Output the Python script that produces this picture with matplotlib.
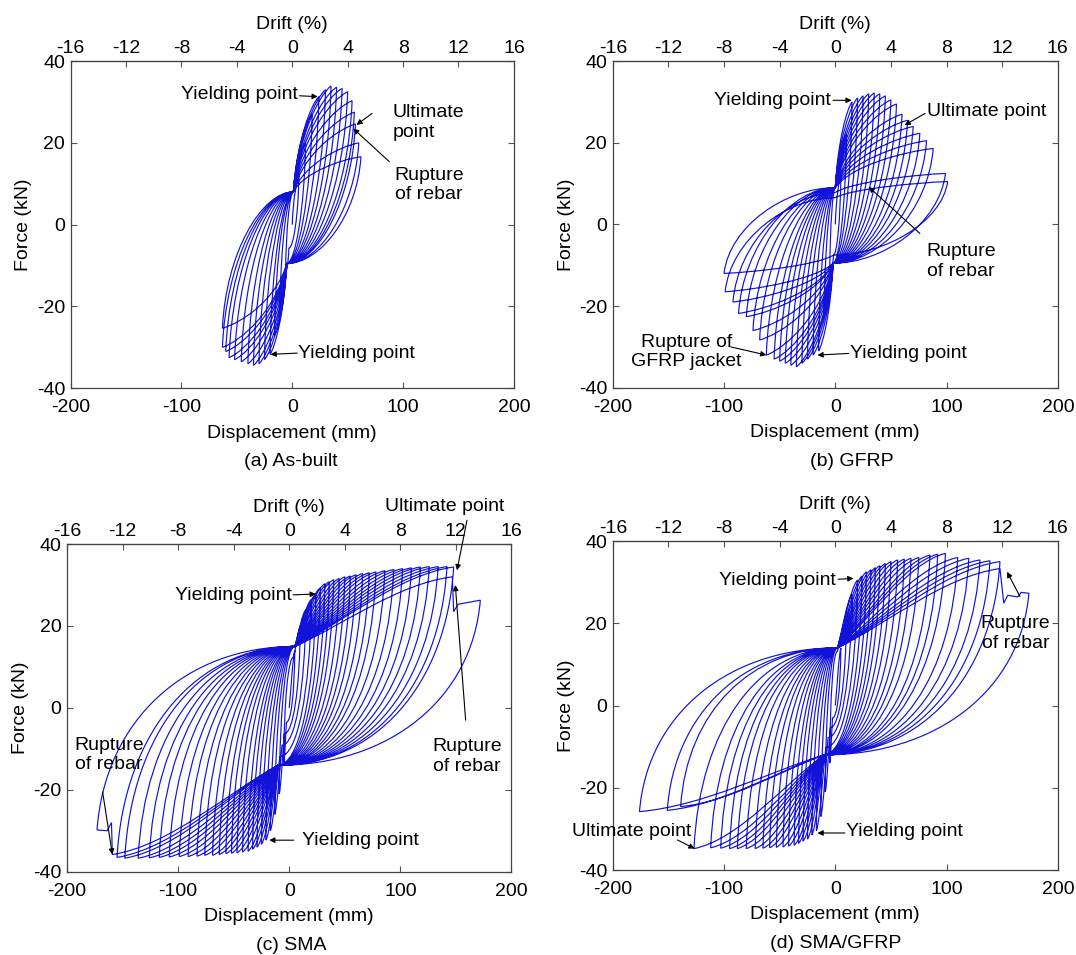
import numpy as np
import matplotlib.pyplot as plt
from matplotlib.path import Path
from matplotlib.patches import PathPatch

plt.rcParams['font.family'] = ['Liberation Sans', 'DejaVu Sans']
plt.rcParams['font.size'] = 14
plt.rcParams['axes.unicode_minus'] = False

# peak displacement (mm) / peak force (kN) of every cycle
# (a) As-built
a_dpos = [6, 12, 18, 24, 30, 35, 40, 45, 50, 54, 56, 57, 60, 62]
a_fpos = [12, 20, 27, 31.3, 33, 33.9, 33.6, 33.3, 32.5, 30.3, 27.5, 24.6, 20, 16.6]
a_dneg = [-6, -11, -16, -20, -25, -30, -35, -40, -46, -52, -57, -60, -63, -63]
a_fneg = [-12, -20, -27, -31.7, -33, -34, -34.4, -34, -33.5, -33, -32.5, -31, -30, -25.3]
a_pinch = [(1, 8), (-5, -9.5)]

# (b) GFRP
b_dpos = [5, 10, 15, 20, 25, 30, 35, 40, 45, 50, 55, 60, 65, 70, 76, 82, 88, 99, 101]
b_fpos = [12, 22, 30, 31, 31.5, 32, 32.2, 32, 31.5, 30.5, 29.5, 27, 25.5, 24, 22.3, 20.5, 18.6, 12.5, 10.5]
b_dneg = [-5, -10, -15, -20, -25, -30, -35, -40, -45, -50, -55, -62, -68, -74, -80, -87, -92, -99, -100]
b_fneg = [-12, -22, -31, -32, -33, -34, -34.9, -34.5, -34, -33.5, -33, -32, -28.3, -26, -22.6, -21.8, -19, -16.5, -12]
b_pinch = [(0, 9), (-2, -9.5)]

# (c) SMA
c_dpos = [5, 10, 15, 20, 24, 28, 32, 36, 40, 45, 50, 55, 60, 66, 72, 78, 86, 94, 102, 110, 118, 126, 134, 142, 148, 172]
c_fpos = [14, 20, 24, 26.5, 27.8, 29.3, 30.3, 30.8, 31.3, 31.6, 32, 32.2, 32.5, 32.8, 33, 33.2, 33.5, 33.8, 34, 34.2, 34.4, 34.5, 34.5, 34.5, 34.4, 26.3]
c_dneg = [-5, -9, -13, -17, -21, -25, -29, -33, -37, -42, -47, -52, -57, -63, -69, -76, -83, -91, -99, -108, -117, -126, -136, -148, -155, -173]
c_fneg = [-14, -21, -26, -30, -32.3, -33.3, -34, -34.5, -35, -35.2, -35.4, -35.5, -35.6, -35.8, -36, -36, -36.2, -36.3, -36.3, -36.4, -36.5, -36.6, -36.7, -36.7, -36.5, -29.8]
c_pinch = [(5, 15), (-10, -14)]
c_rupt_pos = [(146.8, 32), (148, 23.5), (152, 25.3)]
c_rupt_neg = [(-159.2, -35.8), (-160, -28), (-164, -30)]

# (d) SMA/GFRP
d_dpos = [5, 10, 15, 20, 24, 28, 32, 36, 40, 45, 50, 56, 62, 68, 75, 85, 92, 99, 110, 120, 130, 139, 148, 174]
d_fpos = [14, 21, 27, 30.5, 31.5, 32.5, 33, 33.5, 34, 34.5, 35, 35.4, 35.6, 35.8, 36, 36.6, 36.8, 37, 36, 35.8, 35.4, 35.2, 35, 27.3]
d_dneg = [-5, -9, -13, -17, -21, -25, -29, -33, -37, -42, -47, -53, -59, -65, -72, -80, -88, -95, -103, -112, -127, -139, -151, -176]
d_fneg = [-14, -21, -27, -30.5, -31.5, -32.5, -33, -33.5, -34, -34.2, -34.4, -34.5, -34.6, -34.7, -34.8, -34.8, -34.8, -34.8, -34.7, -34.6, -34.8, -24.6, -25.5, -25.8]
d_pinch = [(2, 14), (-10, -12)]
d_rupt_pos = [(148, 33.3), (151.4, 24.9), (155, 26.8), (164, 26.4), (167, 27.5)]

drift_ticks = [-16, -12, -8, -4, 0, 4, 8, 12, 16]
BLUE = '#1212d8'


def curve(verts, codes, a, b, k):
    # cubic bezier from a to b, control points set by shape k
    w, h = b[0] - a[0], b[1] - a[1]
    verts += [(a[0] + k[0] * w, a[1] + k[1] * h), (b[0] - k[2] * w, b[1] - k[3] * h), b]
    codes += [Path.CURVE4] * 3


def pinch_for(p, d, f):
    # small (elastic) cycles do not reach the pinching point
    s = min(1.0, abs(f) / (1.6 * abs(p[1])))
    if p[0] != 0:
        s = min(s, abs(d) / (2.0 * abs(p[0])))
    return (p[0] * s, p[1] * s)


def loops(ax, dpos, fpos, dneg, fneg, pinch, kl, ku, rpos=None, rneg=None):
    verts, codes = [(0, 0)], [Path.MOVETO]
    cur = (0, 0)
    n = len(dpos)
    for i in range(n):
        # towards the positive peak
        if i > 0:
            q = pinch_for(pinch[0], dpos[i], fpos[i])
            curve(verts, codes, cur, q, ku)
            cur = q
        tgt = (dpos[i], fpos[i])
        if rpos and i == n - 1:
            curve(verts, codes, cur, rpos[0], kl)
            for p in rpos[1:] + [tgt]:
                verts.append(p)
                codes.append(Path.LINETO)
        else:
            curve(verts, codes, cur, tgt, kl)
        cur = tgt
        # towards the negative peak
        q = pinch_for(pinch[1], dneg[i], fneg[i])
        curve(verts, codes, cur, q, ku)
        cur = q
        tgt = (dneg[i], fneg[i])
        if rneg and i == n - 1:
            curve(verts, codes, cur, rneg[0], kl)
            for p in rneg[1:] + [tgt]:
                verts.append(p)
                codes.append(Path.LINETO)
        else:
            curve(verts, codes, cur, tgt, kl)
        cur = tgt
    curve(verts, codes, cur, pinch[0], ku)
    ax.add_patch(PathPatch(Path(verts, codes), fill=False, ec=BLUE, lw=0.85))


def arrow(ax, tail, tip):
    ax.annotate('', xy=tip, xytext=tail, annotation_clip=False,
                arrowprops=dict(arrowstyle='-|>', color='k', lw=0.8,
                                mutation_scale=8, shrinkA=0, shrinkB=0))


def setup(ax, caption, cx, cy):
    ax.set_xlim(-200, 200)
    ax.set_ylim(-40, 40)
    ax.set_xticks([-200, -100, 0, 100, 200])
    ax.set_yticks([-40, -20, 0, 20, 40])
    ax.tick_params(direction='in', right=True, top=False, length=4, width=0.8,
                   labelsize=14, pad=4, color='#555555')
    ax.tick_params(axis='x', pad=8)
    for s in ax.spines.values():
        s.set_color('#444444')
        s.set_linewidth(0.9)
    ax.set_xlabel('Displacement (mm)', fontsize=14, labelpad=6)
    ax.set_ylabel('Force (kN)', fontsize=14, labelpad=3)
    sec = ax.secondary_xaxis('top', functions=(lambda x: x / 12.5, lambda d: d * 12.5))
    sec.set_xticks(drift_ticks)
    sec.tick_params(direction='in', length=4, width=0.8, labelsize=14, pad=3, color='#555555')
    sec.set_xlabel('Drift (%)', fontsize=14, labelpad=8)
    fig.text(cx / 1076, 1 - cy / 955, caption, ha='center', va='center', fontsize=14)


fig = plt.figure(figsize=(10.76, 9.55), dpi=100)
ax_a = fig.add_axes([0.0656, 0.5934, 0.412, 0.3427])
ax_b = fig.add_axes([0.5695, 0.594, 0.4136, 0.342])
ax_c = fig.add_axes([0.0623, 0.0872, 0.413, 0.3431])
ax_d = fig.add_axes([0.5695, 0.089, 0.4136, 0.3445])

kl_ab, ku_ab = (0.15, 0.55, 0.3, 0.08), (0.05, 0.55, 0.45, 0.0)
kl_cd, ku_cd = (0.3, 0.3, 0.35, 0.1), (0.04, 0.6, 0.55, 0.0)

# (a)
setup(ax_a, '(a) As-built', 291, 461)
loops(ax_a, a_dpos, a_fpos, a_dneg, a_fneg, a_pinch, kl_ab, ku_ab)
ax_a.text(5, 31.7, 'Yielding point', ha='right', va='center')
arrow(ax_a, (6.5, 31.5), (23, 31.3))
ax_a.text(90.8, 25, 'Ultimate\npoint', ha='left', va='center', linespacing=1.2)
arrow(ax_a, (72, 27.2), (58, 24.4))
ax_a.text(92.3, 9.7, 'Rupture\nof rebar', ha='left', va='center', linespacing=1.2)
arrow(ax_a, (87.6, 15.4), (55, 23.5))
ax_a.text(5.3, -31.4, 'Yielding point', ha='left', va='center')
arrow(ax_a, (4.5, -31.4), (-19.6, -31.7))

# (b)
setup(ax_b, '(b) GFRP', 852, 461)
loops(ax_b, b_dpos, b_fpos, b_dneg, b_fneg, b_pinch, kl_ab, ku_ab)
ax_b.text(-3.7, 30.4, 'Yielding point', ha='right', va='center')
arrow(ax_b, (-2, 30.4), (14.7, 30.4))
ax_b.text(82.3, 27.6, 'Ultimate point', ha='left', va='center')
arrow(ax_b, (80.7, 27.2), (62.3, 24.3))
ax_b.text(82.3, -9.1, 'Rupture\nof rebar', ha='left', va='center', linespacing=1.2)
arrow(ax_b, (76, -2.2), (30, 9.2))
ax_b.text(-134, -31.2, 'Rupture of\nGFRP jacket', ha='center', va='center',
          multialignment='center', linespacing=1.2)
arrow(ax_b, (-94, -30), (-62, -32))
ax_b.text(13.2, -31.6, 'Yielding point', ha='left', va='center')
arrow(ax_b, (12, -31.6), (-16, -32))

# (c)
setup(ax_c, '(c) SMA', 291, 945)
loops(ax_c, c_dpos, c_fpos, c_dneg, c_fneg, c_pinch, kl_cd, ku_cd, c_rupt_pos, c_rupt_neg)
ax_c.text(2.2, 27.5, 'Yielding point', ha='right', va='center')
arrow(ax_c, (3.5, 27.6), (23.9, 27.8))
ax_c.text(140, 49.1, 'Ultimate point', ha='center', va='center', clip_on=False)
arrow(ax_c, (160, 45.8), (151, 33.6))
ax_c.text(160, -11.9, 'Rupture\nof rebar', ha='center', va='center', linespacing=1.2)
arrow(ax_c, (158.8, -3), (149.5, 30))
ax_c.text(-162, -11.5, 'Rupture\nof rebar', ha='center', va='center', linespacing=1.2)
arrow(ax_c, (-168, -20.5), (-159.2, -35.8))
ax_c.text(11.5, -32.3, 'Yielding point', ha='left', va='center')
arrow(ax_c, (4, -32.3), (-18, -32.3))

# (d)
setup(ax_d, '(d) SMA/GFRP', 836, 943)
loops(ax_d, d_dpos, d_fpos, d_dneg, d_fneg, d_pinch, kl_cd, ku_cd, d_rupt_pos)
ax_d.text(0.9, 30.5, 'Yielding point', ha='right', va='center')
arrow(ax_d, (2.5, 30.7), (16.3, 30.9))
ax_d.text(162, 17.5, 'Rupture\nof rebar', ha='center', va='center', linespacing=1.2)
arrow(ax_d, (166, 26.5), (154.4, 32.5))
ax_d.text(-183, -30.7, 'Ultimate point', ha='center', va='center', clip_on=False)
arrow(ax_d, (-141.8, -32.7), (-126.5, -34.8))
ax_d.text(10, -30.7, 'Yielding point', ha='left', va='center')
arrow(ax_d, (8.6, -31), (-16, -31))

fig.savefig('out.png', dpi=100)
